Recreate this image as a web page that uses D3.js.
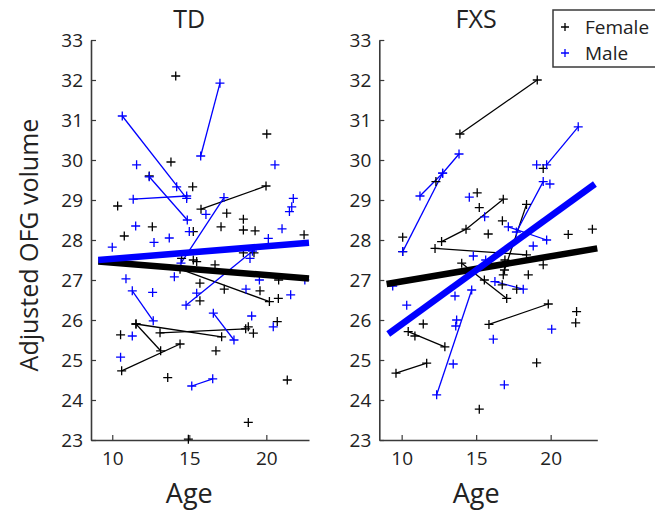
<!DOCTYPE html>
<html><head><meta charset="utf-8">
<script src="https://cdn.jsdelivr.net/npm/d3@7"></script>
<style>
html,body{margin:0;padding:0;background:#fff;}
svg{display:block;font-family:"Open Sans",sans-serif;}
</style></head>
<body><svg id="chart" width="655" height="510"></svg>
<script>
// ---------- data ----------
const panelTitles = ["TD", "FXS"];
const ageTicks = [10, 15, 20];
const volTicks = [23, 24, 25, 26, 27, 28, 29, 30, 31, 32, 33];
const legendLabels = ["Female", "Male"];

// TD: single measurements [age, volume]
const tdFemalePoints = [
  [14.12,32.1],[20.03,30.65],[13.81,29.95],[12.4,29.6],[15.22,29.33],[10.35,28.85],
  [17.43,28.67],[18.51,28.52],[12.6,28.33],[17.06,28.33],[18.51,28.25],[19.27,28.23],
  [15.26,28.21],[22.45,28.13],[10.78,28.1],[18.51,27.68],[19.2,27.68],[14.5,27.54],
  [15.26,27.5],[15.48,27.46],[16.67,27.38],[15.69,26.92],[15.69,26.48],[17.27,26.77],
  [19.59,26.73],[20.8,27.0],[20.78,26.54],[10.54,25.63],[18.83,25.83],[19.16,25.67],
  [20.71,25.96],[16.73,25.23],[13.6,24.56],[21.36,24.5],[18.83,23.44],[14.94,23.02]
];
const tdFemaleLinks = [
  [[15.76,28.77],[19.98,29.35]],
  [[14.4,27.27],[20.2,26.46]],
  [[11.54,25.9],[13.14,25.23]],
  [[11.54,25.9],[17.1,25.58]],
  [[13.1,25.68],[18.66,25.78]],
  [[10.61,24.73],[14.4,25.4]]
];
const tdMalePoints = [
  [11.58,29.88],[20.56,29.88],[14.18,29.33],[16.08,28.64],[11.52,28.35],[21.02,28.28],
  [21.5,28.71],[21.75,29.04],[21.65,28.83],[15.0,28.21],[13.7,28.05],[20.13,28.04],
  [10.0,27.82],[12.71,27.94],[14.03,27.08],[18.68,26.77],[19.55,27.0],[22.5,27.0],
  [21.58,26.63],[10.89,27.03],[12.62,26.69],[11.3,25.6],[19.05,26.1],[20.45,25.83],
  [10.54,25.07],[15.48,26.67],[18.94,27.54]
];
const tdMaleLinks = [
  [[10.65,31.1],[14.83,29.04]],
  [[15.74,30.1],[16.99,31.92]],
  [[12.4,29.58],[14.87,28.5]],
  [[11.36,29.02],[14.83,29.1]],
  [[14.46,27.42],[17.25,29.06]],
  [[14.79,26.37],[19.1,27.72]],
  [[11.3,26.73],[12.66,25.98]],
  [[16.56,26.17],[17.9,25.5]],
  [[15.16,24.35],[16.52,24.53]]
];
const tdFemaleFit = [[9.09,27.46],[22.77,27.04]];
const tdMaleFit = [[9.09,27.5],[22.77,27.93]];

// FXS
const fxsFemalePoints = [
  [10.07,28.07],[10.07,27.71],[12.3,29.46],[15.07,29.18],[15.21,28.81],[15.81,28.15],
  [16.76,28.48],[21.18,28.14],[22.8,28.27],[19.5,29.79],[15.55,27.0],[16.82,27.13],
  [16.75,26.88],[18.5,27.13],[19.5,27.38],[17.72,26.77],[16.93,27.5],[11.45,25.9],
  [10.89,25.6],[21.74,26.21],[21.68,25.93],[19.06,24.93],[15.21,23.77]
];
const fxsFemaleLinks = [
  [[13.91,30.65],[19.1,32.0]],
  [[12.68,27.96],[14.32,28.27],[16.82,29.02]],
  [[12.24,27.79],[18.38,27.63]],
  [[18.38,28.89],[16.9,27.25]],
  [[14.03,27.42],[17.05,26.54]],
  [[10.44,25.71],[12.9,25.33]],
  [[9.62,24.67],[11.68,24.92]],
  [[15.86,25.89],[19.84,26.4]]
];
const fxsMalePoints = [
  [14.54,29.07],[15.57,28.58],[19.06,29.88],[14.81,27.6],[15.64,27.5],[18.83,27.85],
  [13.58,26.6],[10.34,26.37],[16.15,25.52],[20.07,25.77],[16.89,24.38],[13.46,24.9],
  [9.4,26.85],[13.69,26.0],[13.63,25.85],[19.95,29.4]
];
const fxsMaleLinks = [
  [[11.23,29.1],[12.75,29.67],[13.85,30.15]],
  [[10.07,27.71],[12.75,29.67]],
  [[19.73,29.88],[21.85,30.83]],
  [[19.5,29.46],[17.7,28.2]],
  [[17.16,28.33],[19.73,28.0]],
  [[16.26,26.96],[18.16,26.77]],
  [[14.7,26.75],[12.35,24.13]]
];
const fxsFemaleFit = [[8.99,26.9],[23.13,27.79]];
const fxsMaleFit = [[9.1,25.65],[22.97,29.4]];

// ---------- layout ----------
const svg = d3.select("#chart");
const BLUE = "#0000ff", BLACK = "#000000", AXIS = "#3a3a3a";
const plotTop = 40, plotBottom = 440;
const panels = [
  {title: panelTitles[0], left: 91, right: 309, domain: [8.62, 22.77],
   fp: tdFemalePoints, fl: tdFemaleLinks, mp: tdMalePoints, ml: tdMaleLinks, ff: tdFemaleFit, mf: tdMaleFit},
  {title: panelTitles[1], left: 379.3, right: 597.3, domain: [8.5, 23.13],
   fp: fxsFemalePoints, fl: fxsFemaleLinks, mp: fxsMalePoints, ml: fxsMaleLinks, ff: fxsFemaleFit, mf: fxsMaleFit}
];

const y = d3.scaleLinear().domain([23, 33]).range([plotBottom, plotTop]);

function plus(g, pts, x, color) {
  const s = 4.5;
  g.selectAll(null).data(pts).enter().append("path")
    .attr("d", d => {
      const cx = x(d[0]), cy = y(d[1]);
      return `M${cx - s},${cy}H${cx + s}M${cx},${cy - s}V${cy + s}`;
    })
    .attr("stroke", color).attr("stroke-width", 1.3).attr("fill", "none");
}

panels.forEach(p => {
  const x = d3.scaleLinear().domain(p.domain).range([p.left, p.right]);
  const g = svg.append("g");
  const line = d3.line().x(d => x(d[0])).y(d => y(d[1]));

  const xAxis = d3.axisBottom(x).tickValues(ageTicks).tickSizeInner(-5).tickSizeOuter(0).tickPadding(12);
  const yAxis = d3.axisLeft(y).tickValues(volTicks).tickSizeInner(-5).tickSizeOuter(0).tickPadding(8);
  const gx = g.append("g").attr("transform", `translate(0,${plotBottom})`).call(xAxis);
  const gy = g.append("g").attr("transform", `translate(${p.left},0)`).call(yAxis);
  [gx, gy].forEach(a => {
    a.select(".domain").attr("stroke", AXIS).attr("stroke-width", 1.6);
    a.selectAll(".tick line").attr("stroke", AXIS).attr("stroke-width", 1.2);
    a.selectAll(".tick text").attr("fill", "#222").attr("font-size", 19)
      .attr("font-family", "'Open Sans',sans-serif");
  });
  gy.selectAll(".tick text").attr("dy", "0.35em");

  g.selectAll(null).data(p.fl).enter().append("path").attr("d", line)
    .attr("stroke", BLACK).attr("stroke-width", 1.3).attr("fill", "none");
  g.selectAll(null).data(p.ml).enter().append("path").attr("d", line)
    .attr("stroke", BLUE).attr("stroke-width", 1.3).attr("fill", "none");

  plus(g, p.fp, x, BLACK);
  plus(g, p.fl.flat(), x, BLACK);
  plus(g, p.mp, x, BLUE);
  plus(g, p.ml.flat(), x, BLUE);

  g.append("path").attr("d", line(p.ff)).attr("stroke", BLACK).attr("stroke-width", 6.5).attr("fill", "none");
  g.append("path").attr("d", line(p.mf)).attr("stroke", BLUE).attr("stroke-width", 6.5).attr("fill", "none");

  g.append("text").attr("x", x(15)).attr("y", 28).attr("text-anchor", "middle")
    .attr("font-size", 25).attr("fill", "#222").text(p.title);
  g.append("text").attr("x", x(15)).attr("y", 503).attr("text-anchor", "middle")
    .attr("font-size", 27).attr("fill", "#222").text("Age");
});

svg.append("text").attr("transform", "translate(38,245) rotate(-90)").attr("text-anchor", "middle")
  .attr("font-size", 25).attr("fill", "#222").text("Adjusted OFG volume");

const lg = svg.append("g");
lg.append("rect").attr("x", 553).attr("y", 10).attr("width", 110).attr("height", 57)
  .attr("fill", "#fff").attr("stroke", AXIS).attr("stroke-width", 1.5);
const legColors = [BLACK, BLUE];
legendLabels.forEach((t, i) => {
  const ly = 27 + i * 26;
  const lx = 565, s = 4;
  lg.append("path").attr("d", `M${lx - s},${ly}H${lx + s}M${lx},${ly - s}V${ly + s}`)
    .attr("stroke", legColors[i]).attr("stroke-width", 1.3);
  lg.append("text").attr("x", 585).attr("y", ly).attr("dy", "0.35em")
    .attr("font-size", 19).attr("fill", "#222").text(t);
});
</script></body></html>
